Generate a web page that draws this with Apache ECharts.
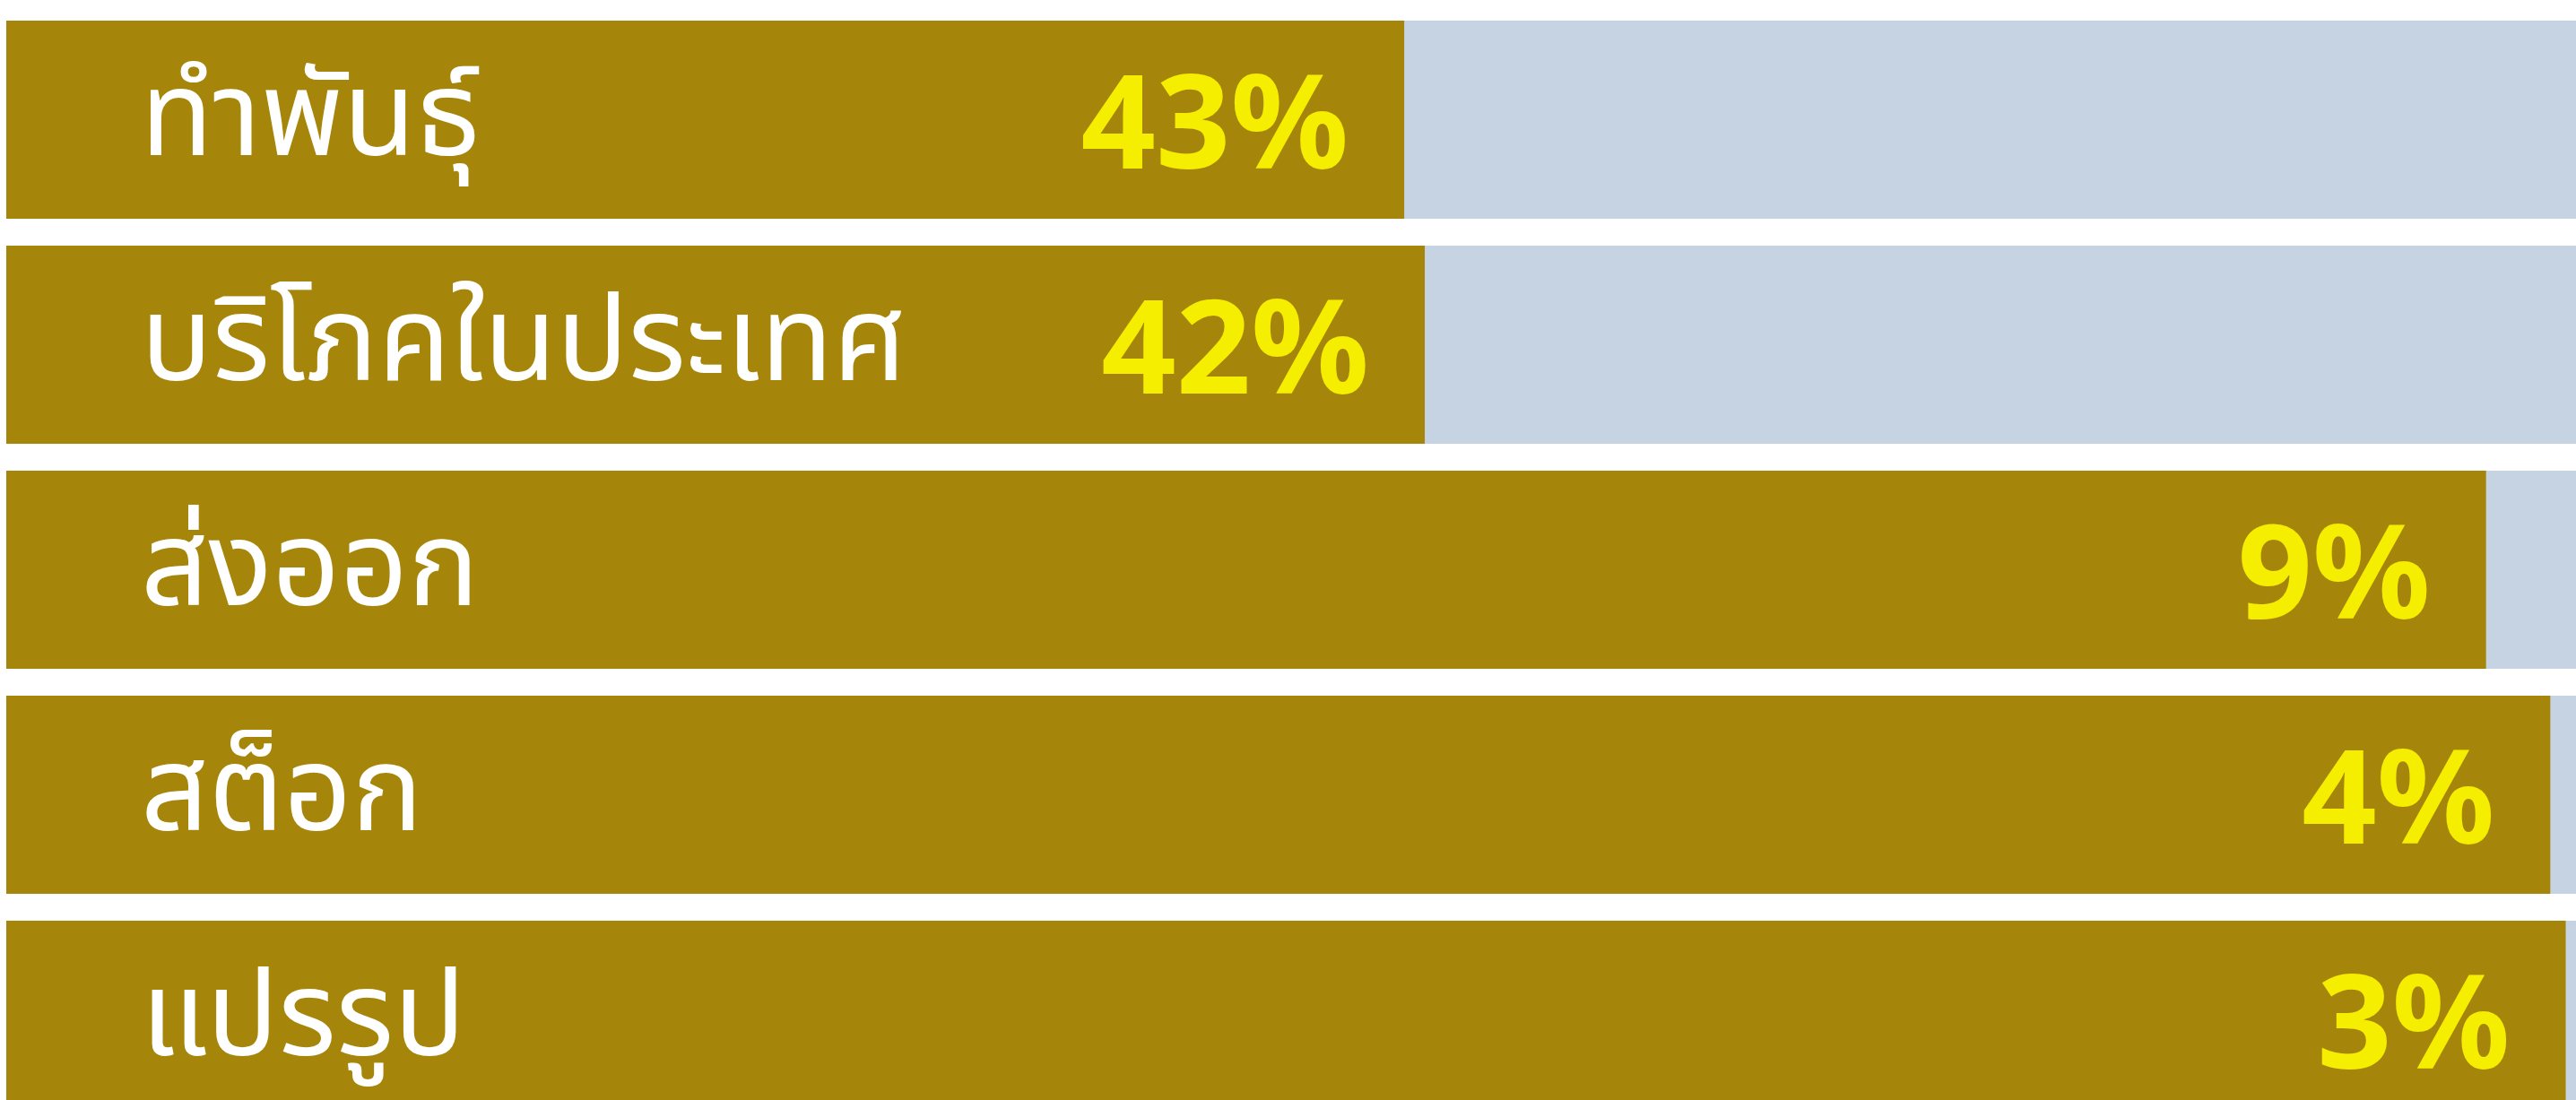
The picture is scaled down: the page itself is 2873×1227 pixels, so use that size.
<!DOCTYPE html>
<html>
<head>
<meta charset="utf-8">
<script src="https://cdn.jsdelivr.net/npm/echarts@6/dist/echarts.min.js"></script>
<style>
html,body{margin:0;padding:0;background:#ffffff;overflow:hidden;}
#chart{width:2873px;height:1263px;}
</style>
</head>
<body>
<div id="chart"></div>
<script>
// Categories (top to bottom)
const categories = ['ทำพันธุ์', 'บริโภคในประเทศ', 'ส่งออก', 'สต็อก', 'แปรรูป'];
// Gold bar lengths (axis 0–100 = full light-blue track)
const barValues = [54.4, 55.2, 96.5, 99.0, 99.6];
// Percentage labels shown on the bars
const pctLabels = ['43%', '42%', '9%', '4%', '3%'];

const chart = echarts.init(document.getElementById('chart'), null, {renderer: 'canvas'});
chart.setOption({
  backgroundColor: '#ffffff',
  animation: false,
  grid: {left: 7, right: 0, top: 8, bottom: 0, containLabel: false},
  xAxis: {
    type: 'value', min: 0, max: 100,
    axisLine: {show: false}, axisTick: {show: false},
    axisLabel: {show: false}, splitLine: {show: false}
  },
  yAxis: {
    type: 'category', data: categories, inverse: true,
    axisLine: {show: false}, axisTick: {show: false},
    axisLabel: {show: false}
  },
  series: [{
    type: 'bar',
    data: barValues,
    barWidth: 221,
    showBackground: true,
    backgroundStyle: {color: '#c5d3e3'},
    itemStyle: {color: '#a6860a'},
    label: {
      show: true, position: 'insideRight', distance: 62,
      offset: [0, 13],
      formatter: p => pctLabels[p.dataIndex],
      color: '#f5ee00', fontSize: 146, fontWeight: 'bold',
      fontFamily: '"Noto Sans", "Open Sans", sans-serif'
    }
  }, {
    // transparent overlay carrying the category names
    type: 'bar',
    data: barValues,
    barWidth: 221,
    barGap: '-100%',
    silent: true,
    itemStyle: {color: 'rgba(0,0,0,0)'},
    label: {
      show: true, position: 'insideLeft', distance: 150,
      offset: [0, 13],
      formatter: p => categories[p.dataIndex],
      color: '#ffffff', fontSize: 132,
      fontFamily: '"Noto Sans Thai", "Noto Sans Thai UI", "Noto Sans", "DejaVu Sans", sans-serif'
    },
    z: 5
  }]
});
</script>
</body>
</html>
